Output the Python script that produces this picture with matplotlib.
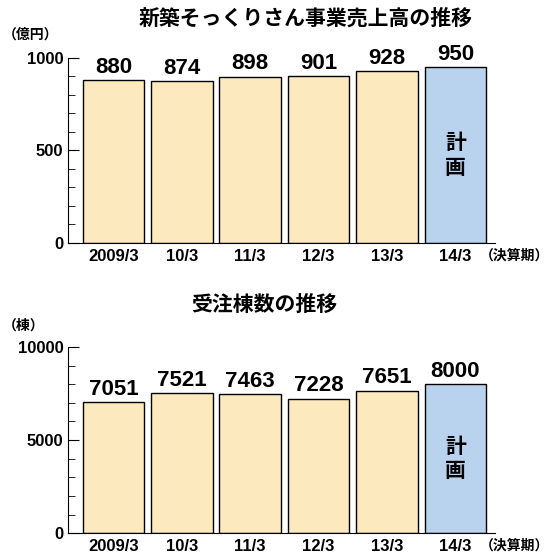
import numpy as np
import matplotlib.pyplot as plt
from matplotlib.ticker import MultipleLocator

plt.rcParams['font.family'] = ['Liberation Sans', 'Noto Sans CJK JP']

periods = ['2009/3', '10/3', '11/3', '12/3', '13/3', '14/3']
sales = [880, 874, 898, 901, 928, 950]
orders = [7051, 7521, 7463, 7228, 7651, 8000]

CREAM = '#FCE9BE'
BLUE = '#B9D3EE'
colors = [CREAM] * 5 + [BLUE]

fig = plt.figure(figsize=(5.5, 5.56), dpi=100)


def draw(ax, values, ymax, major, minor):
    x = np.arange(len(values))
    ax.bar(x, values, 0.9, color=colors, edgecolor='black', linewidth=1.0)
    for xi, v in zip(x, values):
        ax.text(xi, v + ymax * 0.012, f'{v}', ha='center', va='bottom',
                fontsize=16, fontweight='bold')
    ax.text(x[-1], values[-1] * 0.5, '計\n画', ha='center', va='center',
            fontsize=15, fontweight='bold', linespacing=1.2,
            family=['Noto Sans CJK JP'])
    ax.set_xlim(-0.66, 5.58)
    ax.set_ylim(0, ymax)
    ax.set_xticks(x)
    ax.set_xticklabels(periods, fontsize=12, fontweight='bold')
    ax.yaxis.set_major_locator(MultipleLocator(major))
    ax.yaxis.set_minor_locator(MultipleLocator(minor))
    ax.tick_params(axis='y', which='major', direction='in', length=8, labelsize=12)
    ax.tick_params(axis='y', which='minor', direction='in', length=5)
    ax.tick_params(axis='x', length=0, pad=4)
    for lbl in ax.get_yticklabels():
        lbl.set_fontweight('bold')
    for s in ['top', 'right']:
        ax.spines[s].set_visible(False)


ax1 = fig.add_axes([0.124, 0.563, 0.776, 0.333])
draw(ax1, sales, 1000, 500, 100)
ax2 = fig.add_axes([0.124, 0.041, 0.776, 0.335])
draw(ax2, orders, 10000, 5000, 1000)

cjk = ['Noto Sans CJK JP']
fig.text(0.555, 0.968, '新築そっくりさん事業売上高の推移', ha='center', va='center',
         fontsize=15, fontweight='bold', family=cjk)
fig.text(0.48, 0.452, '受注棟数の推移', ha='center', va='center',
         fontsize=15, fontweight='bold', family=cjk)
fig.text(0.005, 0.937, '（億円）', ha='left', va='center', fontsize=10, fontweight='bold', family=cjk)
fig.text(0.005, 0.415, '（棟）', ha='left', va='center', fontsize=10, fontweight='bold', family=cjk)
fig.text(0.998, 0.54, '（決算期）', ha='right', va='center', fontsize=10, fontweight='bold', family=cjk)
fig.text(0.998, 0.018, '（決算期）', ha='right', va='center', fontsize=10, fontweight='bold', family=cjk)

fig.savefig('out.png', dpi=100)
